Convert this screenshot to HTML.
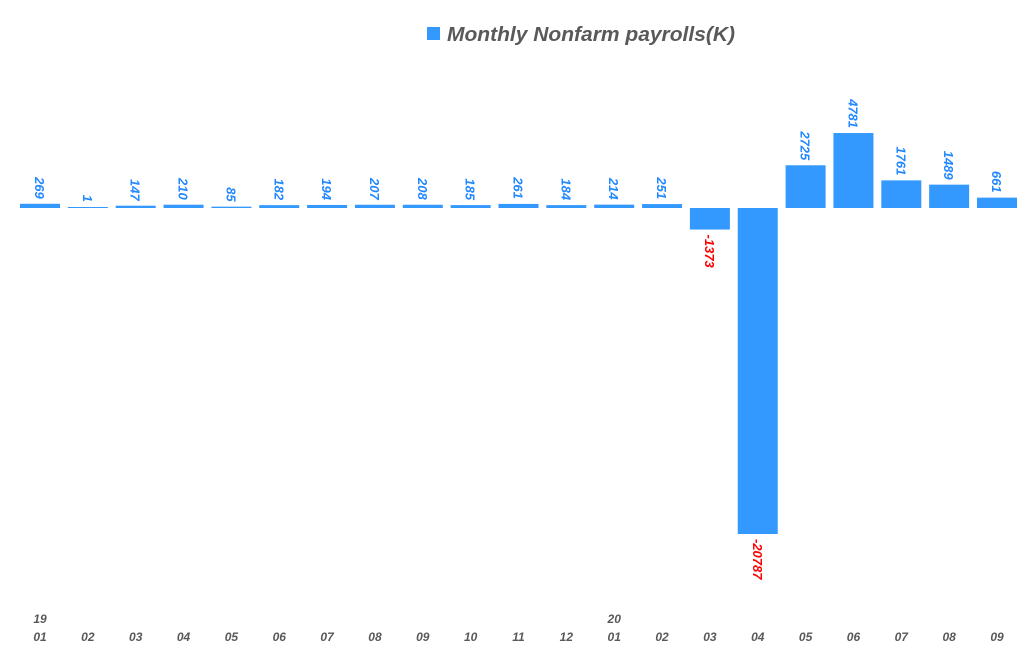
<!DOCTYPE html>
<html><head><meta charset="utf-8"><style>body{margin:0;background:#fff}svg{display:block}</style></head><body>
<svg width="1024" height="663" xmlns="http://www.w3.org/2000/svg" font-family="Liberation Sans, sans-serif">
<rect x="427" y="27" width="13" height="13" fill="#3399ff"/>
<text x="447" y="41" font-size="20" font-weight="bold" font-style="italic" fill="#595959" textLength="288" lengthAdjust="spacingAndGlyphs">Monthly Nonfarm payrolls(K)</text>
<g id="g"></g>
</svg>
<script>
const v=[269,1,147,210,85,182,194,207,208,185,261,184,214,251,-1373,-20787,2725,4781,1761,1489,661];
const m=["01","02","03","04","05","06","07","08","09","10","11","12","01","02","03","04","05","06","07","08","09"];
const z=208,k=326/20787;let s="";
v.forEach((d,i)=>{const cx=40+i*47.85,h=Math.max(d*k,1);
if(d>=0){const t=z-h;s+=`<rect x="${cx-20}" y="${t}" width="40" height="${h}" fill="#3399ff"/>`;
s+=`<text transform="translate(${cx-5},${t-5}) rotate(90)" text-anchor="end" font-size="13" font-weight="bold" font-style="italic" fill="#2288ff">${d}</text>`;}
else{const hh=-d*k;s+=`<rect x="${cx-20}" y="${z}" width="40" height="${hh}" fill="#3399ff"/>`;
s+=`<text transform="translate(${cx-5},${z+hh+5}) rotate(90)" text-anchor="start" font-size="13" font-weight="bold" font-style="italic" fill="#ff0000">${d}</text>`;}
s+=`<text x="${cx}" y="641" text-anchor="middle" font-size="12" font-weight="bold" font-style="italic" fill="#595959">${m[i]}</text>`;});
s+=`<text x="40" y="623" text-anchor="middle" font-size="12" font-weight="bold" font-style="italic" fill="#595959">19</text>`;
s+=`<text x="${40+12*47.85}" y="623" text-anchor="middle" font-size="12" font-weight="bold" font-style="italic" fill="#595959">20</text>`;
document.getElementById("g").innerHTML=s;
</script>
</body></html>
